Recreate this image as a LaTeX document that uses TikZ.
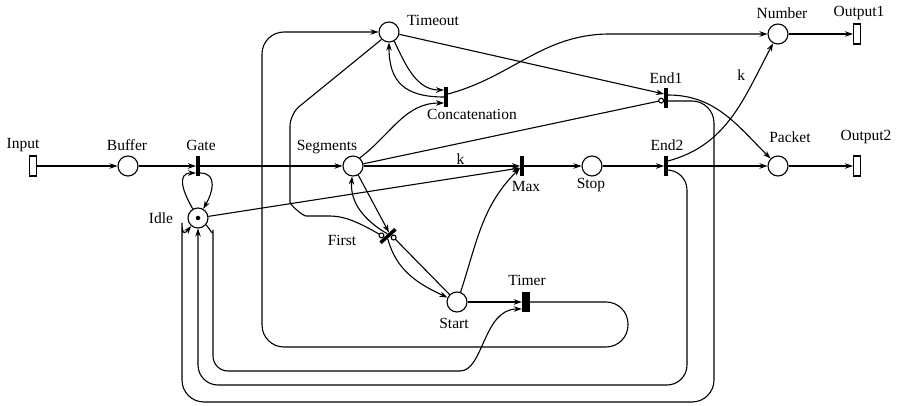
\documentclass[tikz,border=0pt]{standalone}
\usepackage{fontspec}
\setmainfont{Liberation Serif}
\usetikzlibrary{arrows.meta, calc}
\tikzstyle{place} = [
    circle,
    minimum size=20pt,
    inner sep=0pt,
    line width=1.1pt,
    draw=black
]
\tikzstyle{trans} = [
    rectangle,
    minimum width=3.5pt,
    minimum height=20pt,
    inner sep=0pt,
    fill=black
]
\tikzstyle{timerbar} = [
    rectangle,
    minimum width=8pt,
    minimum height=20pt,
    inner sep=0pt,
    fill=black
]
\tikzstyle{port} = [
    rectangle,
    minimum width=7pt,
    minimum height=20pt,
    inner sep=0pt,
    line width=1.1pt,
    draw=black
]
\tikzstyle{tag} = [inner sep=0pt, font=\fontsize{15.5pt}{18pt}\selectfont]
\tikzstyle{arrow} = [line width=1.1pt, -{Stealth[length=8pt, width=5.5pt, inset=2.5pt]}]
\tikzstyle{inhib} = [line width=1.1pt, -{Circle[open, length=6pt, width=6pt]}]

\begin{document}
\begin{tikzpicture}[x=1pt, y=1pt]

\useasboundingbox (0,0) rectangle (897,-406);

\node (input) [port] at (33,-166) {};

\node (buffer) [place] at (128,-166) {};

\node (gate) [trans] at (198,-166) {};

\node (idle) [place] at (198,-218) {};
\node (token) [circle, fill=black, inner sep=0pt, minimum size=4.5pt] at (idle) {};

\node (segments) [place] at (353,-166) {};

\node (timeout) [place] at (389,-32) {};

\node (concat) [trans] at (446,-97) {};

\node (first) [trans, rotate=-48] at (388,-236) {};

\node (start) [place] at (457,-302) {};

\node (timer) [timerbar] at (526,-302) {};

\node (max) [trans] at (522,-166) {};

\node (stop) [place] at (592,-166) {};

\node (end1) [trans] at (666,-98) {};

\node (end2) [trans] at (666,-166) {};

\node (number) [place] at (778,-34) {};

\node (packet) [place] at (778,-166) {};

\node (output1) [port] at (857,-34) {};

\node (output2) [port] at (857,-166) {};

\node (inputlbl) [tag] at (23,-145) {Input};
\node (bufferlbl) [tag] at (127,-145) {Buffer};
\node (gatelbl) [tag] at (201,-145) {Gate};
\node (idlelbl) [tag] at (161,-218) {Idle};
\node (segmentslbl) [tag] at (327,-147) {Segments};
\node (timeoutlbl) [tag] at (433,-20) {Timeout};
\node (concatlbl) [tag] at (472,-114) {Concatenation};
\node (firstlbl) [tag] at (342,-240) {First};
\node (startlbl) [tag] at (454,-323) {Start};
\node (timerlbl) [tag] at (527,-280) {Timer};
\node (maxlbl) [tag] at (526,-187) {Max};
\node (stoplbl) [tag] at (591,-185) {Stop};
\node (end1lbl) [tag] at (666,-78) {End1};
\node (end2lbl) [tag] at (667,-145) {End2};
\node (numberlbl) [tag] at (782,-13) {Number};
\node (packetlbl) [tag] at (790,-137) {Packet};
\node (output1lbl) [tag] at (859,-13) {Output1};
\node (output2lbl) [tag] at (866,-137) {Output2};

\draw [arrow] (input) -- (buffer);
\draw [arrow] (buffer) -- (gate);
\draw [arrow] (gate) -- (segments);
\draw [arrow] ([yshift=-7pt]gate.east) to[out=0, in=60, looseness=1.3] (idle.60);
\draw [arrow] (idle.120) to[out=120, in=180, looseness=1.4] ([yshift=-7pt]gate.west);
\draw [arrow] (segments) -- node[tag, above=1pt, pos=0.62] (kmax) {k} (max);
\draw [arrow] (idle) -- ([yshift=-2pt]max.west);
\draw [arrow] (start.70) to[out=72, in=225] ([yshift=-2pt]max.west);
\draw [arrow] (max) -- (stop);
\draw [arrow] (stop) -- (end2);
\draw [arrow] (end2) -- (packet);
\draw [arrow] (number) -- (output1);
\draw [arrow] (packet) -- (output2);
\draw [arrow] ([yshift=5pt]end2.east) to[out=15, in=242] node[tag, pos=0.8, left=11pt] (knum) {k} (number);
\draw [arrow] ([yshift=3pt]end1.east) to[out=0, in=135] (packet);
\draw [arrow] (timeout) -- ([yshift=4pt]end1.west);
\draw [inhib] (segments) -- ([yshift=-2pt]end1.west);
\draw [arrow] (timeout.-60) to[out=-65, in=180] ([yshift=7pt]concat.west);
\draw [arrow] (concat.west) to[out=180, in=-90, looseness=1.3] (timeout);
\draw [arrow] (segments.50) to[out=37, in=180] ([yshift=-6pt]concat.west);
\draw [arrow] ([yshift=3pt]concat.east) to[out=15, in=180] (610,-34) -- (number);
\draw [arrow] (segments.-60) -- ($(first.west)!0.3!(first.north west)$);
\draw [arrow] ($(first.west)!0.1!(first.north west)$) to[out=150, in=-95] (segments.-95);
\draw [inhib, rounded corners=12pt] (timeout.225) -- (290,-114) -- (290,-190) to[out=-90, in=180] (318,-216) to[out=0, in=150] ($(first.west)!0.35!(first.south west)$);
\draw [arrow] ($(first.east)!0.2!(first.south east)$) to[out=-75, in=155] (start.155);
\draw [inhib] (start.135) -- ($(first.east)!0.3!(first.north east)$);
\draw [arrow] (start) -- (timer);
\draw [arrow, rounded corners=22pt] (timer.east) -- (628,-302) -- (628,-347) -- (262,-347) -- (262,-32) -- (timeout);
\draw [arrow, rounded corners=15pt] (idle.-40) to[out=-50, in=90] (213,-245) |- (445,-371) to[out=0, in=180] ([yshift=-7pt]timer.west);
\draw [arrow, rounded corners=20pt] ([yshift=-4pt]end2.east) -| (687,-385) -| (idle);
\draw [arrow, rounded corners=22pt] ([yshift=-3pt]end1.east) -| (714,-402) -- (182,-402) -- (182,-245) to[out=90, in=230] (idle.230);

\end{tikzpicture}
\end{document}
